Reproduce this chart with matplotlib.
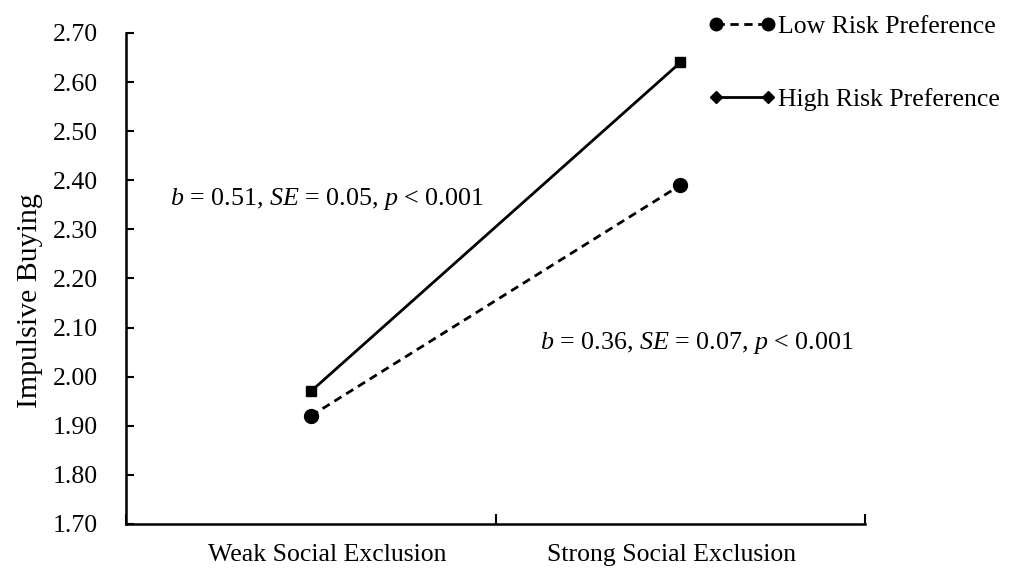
import matplotlib.pyplot as plt
from matplotlib.lines import Line2D
from matplotlib.transforms import ScaledTranslation

plt.rcParams['font.family'] = ['Liberation Serif', 'DejaVu Serif']
plt.rcParams['mathtext.fontset'] = 'custom'
plt.rcParams['mathtext.rm'] = 'Liberation Serif'
plt.rcParams['mathtext.it'] = 'Liberation Serif:italic'

categories = ['Weak Social Exclusion', 'Strong Social Exclusion']
low_risk = [1.92, 2.39]
high_risk = [1.97, 2.64]
yticks = [1.70, 1.80, 1.90, 2.00, 2.10, 2.20, 2.30, 2.40, 2.50, 2.60, 2.70]

fig = plt.figure(figsize=(10.12, 5.68), dpi=100)
ax = fig.add_axes([0.1245, 0.0775, 0.7305, 0.8645])

x = range(len(categories))
ax.plot(x, low_risk, color='black', lw=2, ls=(0, (3, 2)), marker='o', ms=10)
ax.plot(x, high_risk, color='black', lw=2, ls='-', marker='s', ms=6.5)

ax.set_xlim(-0.5, 1.5)
ax.set_ylim(1.70, 2.70)
ax.set_yticks(yticks)
ax.set_yticklabels(['%.2f' % v for v in yticks], fontsize=18.5)
ax.set_xticks(list(x))
ax.set_xticklabels(categories, fontsize=18.5)
ax.tick_params(axis='x', length=0, pad=14.5)
ax.set_xticks([-0.5, 0.5, 1.5], minor=True)
ax.tick_params(axis='x', which='minor', direction='in', length=7, width=1.5)
ax.tick_params(axis='y', direction='in', length=6, width=1.5, pad=20)
for s in ['top', 'right']:
    ax.spines[s].set_visible(False)
for s in ['left', 'bottom']:
    ax.spines[s].set_linewidth(1.8)
ax.set_ylabel('Impulsive Buying', fontsize=21.5)
ax.yaxis.set_label_coords(-0.112, 0.455)

# excel puts the category labels a little off centre
for lab, dx in zip(ax.get_xticklabels(), [16, -9]):
    lab.set_transform(lab.get_transform() + ScaledTranslation(dx / 100, 0, fig.dpi_scale_trans))

ax.text(-0.38, 2.362, r'$b$ = 0.51, $SE$ = 0.05, $p$ < 0.001', fontsize=18.7,
        ha='left', va='center')
ax.text(0.62, 2.069, r'$b$ = 0.36, $SE$ = 0.07, $p$ < 0.001', fontsize=18.7,
        ha='left', va='center')

handles = [
    Line2D([0], [0], color='black', lw=2, ls=(0, (3, 2)), marker='o', ms=9),
    Line2D([0], [0], color='black', lw=2, ls='-', marker='D', ms=6),
]
fig.legend(handles, ['Low Risk Preference', 'High Risk Preference'],
           loc='upper left', bbox_to_anchor=(0.700, 0.973), frameon=False,
           fontsize=18.5, numpoints=2, handlelength=2.62, handletextpad=0.1,
           labelspacing=1.92, borderpad=0, borderaxespad=0)

fig.savefig('out.png', dpi=100)
